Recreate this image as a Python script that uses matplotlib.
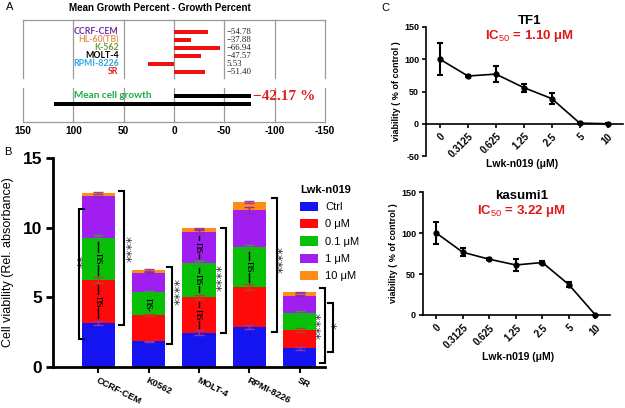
import matplotlib
matplotlib.use('Agg')
import matplotlib.pyplot as plt
from matplotlib.patches import Patch
import numpy as np

plt.rcParams['font.family'] = ['Liberation Sans', 'DejaVu Sans']
plt.rcParams['mathtext.fontset'] = 'custom'
plt.rcParams['mathtext.rm'] = 'Liberation Sans'
plt.rcParams['mathtext.bf'] = 'Liberation Sans:bold'

W, H = 625, 408

# ---------------- Panel A data ----------------
a_lines = ['CCRF-CEM', 'HL-60(TB)', 'K-562', 'MOLT-4', 'RPMI-8226', 'SR']
a_colors = ['#7030A0', '#E8935A', '#6A9A3A', '#000000', '#2AA8E0', '#E02020']
a_values = ['\u221254.78', '\u221237.88', '\u221266.94', '\u221247.57', '5.53', '\u221251.40']
a_bars = [-34, -17, -46, -27, 26, -31]
a_mean_bar = -76
a_range_bar = (119, -76)
a_mean_text = '\u221242.17 %'
a_ticks = [150, 100, 50, 0, -50, -100, -150]

# ---------------- Panel B data ----------------
b_lines = ['CCRF-CEM', 'K0562', 'MOLT-4', 'RPMI-8226', 'SR']
b_groups = ['Ctrl', '0 \u03bcM', '0.1 \u03bcM', '1 \u03bcM', '10 \u03bcM']
b_ctrl = [3.17, 1.85, 2.47, 2.88, 1.34]
b_0 = [3.07, 1.87, 2.57, 2.88, 1.32]
b_01 = [3.05, 1.68, 2.40, 2.83, 1.24]
b_1 = [2.95, 1.37, 2.28, 2.69, 1.22]
b_10 = [0.24, 0.19, 0.24, 0.55, 0.24]
e_ctrl = [0.15, 0.05, 0.15, 0.15, 0.12]
e_0 = [0.22, 0.06, 0.15, 0.22, 0.14]
e_01 = [0.15, 0.05, 0.15, 0.2, 0.1]
e_1 = [0.06, 0.05, 0.08, 0.2, 0.06]
e_10 = [0.05, 0.05, 0.05, 0.05, 0.05]
b_colors = ['#1414F0', '#FF0A0A', '#08C008', '#A01EF0', '#FF8C14']
b_ecolors = ['#8A3AA0', '#C83828', '#3C9A3C', '#8A2BB0', '#9B3A9B']
# ns comparisons: (bar index, segment index)
b_ns = [(0, 1), (0, 2), (1, 2), (2, 1), (2, 2), (2, 3), (3, 2)]
# significance brackets: (x, y_low, y_high, opening, label, label_x, label_y)
b_brackets = [
    (-0.376, 2.04, 11.33, 'left', '**', -0.30, 7.6),
    (0.515, 3.05, 12.6, 'right', '****', 0.66, 8.5),
    (1.465, 1.63, 7.2, 'right', '****', 1.62, 5.4),
    (2.535, 2.45, 9.96, 'right', '****', 2.45, 6.4),
    (3.545, 2.5, 12.1, 'right', '****', 3.67, 7.7),
    (4.495, 0.3, 5.67, 'right', '****', 4.43, 3.0),
    (4.65, 1.07, 4.6, 'right', '*', 4.74, 3.0),
]

# ---------------- Panel C data ----------------
c_doses = ['0', '0.3125', '0.625', '1.25', '2.5', '5', '10']
tf1_v = [100, 74, 77, 56, 39, 1, 0]
tf1_e = [25, 2, 13, 6, 9, 1, 0.5]
kas_v = [100, 76.5, 68, 61, 64, 37, 0]
kas_e = [14, 5, 1.5, 7, 1.5, 3, 0.5]


def rect(x0, y0, x1, y1):
    return [x0 / W, 1 - y1 / H, (x1 - x0) / W, (y1 - y0) / H]


def ftext(x, y, s, **kw):
    fig.text(x / W, 1 - y / H, s, **kw)


fig = plt.figure(figsize=(W / 100, H / 100), dpi=100)

# ================= Panel A =================
axA = fig.add_axes(rect(23, 20, 325, 122))
axA.set_xlim(150, -150)
axA.set_ylim(11.25, -1.5)
for s in axA.spines.values():
    s.set_visible(False)
gcol = '#9A9A9A'
for xv in a_ticks:
    axA.plot([xv, xv], [-1.5, 5.75], color=gcol, lw=0.9, zorder=0, clip_on=False)
    axA.plot([xv, xv], [7.0, 11.25], color=gcol, lw=0.9, zorder=0, clip_on=False)
axA.plot([150, -150], [-1.5, -1.5], color=gcol, lw=0.9, clip_on=False)
axA.plot([150, -150], [11.25, 11.25], color=gcol, lw=0.9, clip_on=False)
rows = np.arange(len(a_lines))
axA.barh(rows, a_bars, height=0.45, color='#F01010', zorder=2)
axA.barh([8], [a_mean_bar], height=0.55, color='black', zorder=2)
axA.barh([9], [a_range_bar[1] - a_range_bar[0]], left=a_range_bar[0], height=0.55,
         color='black', zorder=2)
for i, (nm, c, v) in enumerate(zip(a_lines, a_colors, a_values)):
    axA.text(55, i, nm, color=c, fontsize=6.3, fontweight='bold', family=['Lato', 'DejaVu Sans'],
             ha='right', va='center')
    axA.text(-52, i, v, color='#222222', fontsize=6.3, family=['Liberation Serif', 'DejaVu Serif'],
             ha='left', va='center')
axA.text(22, 8, 'Mean cell growth', color='#1EA848', fontsize=7.2, fontweight='bold',
         family=['Lato', 'DejaVu Sans'], ha='right', va='center')
axA.text(-78, 8, a_mean_text, color='#E02020', fontsize=11, fontweight='bold',
         family=['Liberation Serif', 'DejaVu Serif'], ha='left', va='center')
axA.set_xticks(a_ticks)
axA.set_xticklabels([str(t) for t in a_ticks], fontsize=7.3, fontweight='bold')
axA.tick_params(axis='x', length=0, pad=3)
axA.set_yticks([])
ftext(160, 8, 'Mean Growth Percent - Growth Percent', fontsize=7, fontweight='bold',
      ha='center', va='center')
ftext(10, 7, 'A', fontsize=8, ha='center', va='center')

# ================= Panel B =================
axB = fig.add_axes(rect(53, 158, 325, 367))
xb = np.arange(len(b_lines))
segs = [b_ctrl, b_0, b_01, b_1, b_10]
errs = [e_ctrl, e_0, e_01, e_1, e_10]
bottom = np.zeros(len(b_lines))
cum = []
handles = []
for vals, er, col, ecol, lab in zip(segs, errs, b_colors, b_ecolors, b_groups):
    vals = np.array(vals)
    axB.bar(xb, vals, 0.66, bottom=bottom, color=col, zorder=2)
    top = bottom + vals
    axB.errorbar(xb, top, yerr=er, fmt='none', ecolor=ecol, elinewidth=1, capsize=3.5,
                 capthick=1, zorder=3)
    cum.append((bottom.copy(), top.copy()))
    handles.append(Patch(facecolor=col, edgecolor='none', label=lab))
    bottom = top

for bi, si in b_ns:
    y0, y1 = cum[si][0][bi], cum[si][1][bi]
    axB.plot([bi, bi], [y0 + 0.35, y1 - 0.35], color='black', lw=1, zorder=4)
    axB.text(bi, (y0 + y1) / 2, 'ns', rotation=270, fontsize=9.5, ha='center', va='center',
             family=['Liberation Serif', 'DejaVu Serif'], zorder=5,
             bbox=dict(facecolor=b_colors[si], edgecolor='none', pad=0.3))

for (bx, y0, y1, side, lab, lx, ly) in b_brackets:
    tip = 0.1 if side == 'right' else -0.1
    axB.plot([bx - tip, bx, bx, bx - tip], [y0, y0, y1, y1], color='black', lw=1.5,
             clip_on=False, zorder=4, solid_joinstyle='miter')
    axB.text(lx, ly, lab, rotation=90, fontsize=9.5, color='#333333', ha='center', va='center',
             family=['DejaVu Sans'], clip_on=False)

axB.set_xlim(-0.9, 4.5)
axB.set_ylim(0, 15)
axB.set_yticks([0, 5, 10, 15])
axB.set_yticklabels(['0', '5', '10', '15'], fontsize=12.5, fontweight='bold')
axB.set_xticks(xb)
axB.set_xticklabels(b_lines, fontsize=6.7, fontweight='bold', rotation=-27, ha='left',
                    va='top', rotation_mode='anchor')
axB.tick_params(axis='y', length=5, width=2, pad=3)
axB.tick_params(axis='x', length=4, width=1.5, pad=2)
for s in ['top', 'right']:
    axB.spines[s].set_visible(False)
for s in ['left', 'bottom']:
    axB.spines[s].set_linewidth(2)
axB.set_ylabel('Cell viability (Rel. absorbance)', fontsize=9, labelpad=6)
leg = axB.legend(handles=handles, loc='upper left', bbox_to_anchor=(292 / W, 1 - 177 / H),
                 bbox_transform=fig.transFigure, frameon=False, fontsize=8,
                 title='Lwk-n019', title_fontproperties={'weight': 'bold', 'size': 8},
                 handlelength=1.6, handleheight=0.9, labelspacing=0.62, handletextpad=0.7,
                 borderpad=0.2)
leg._legend_box.align = 'left'
ftext(8, 152, 'B', fontsize=8, ha='center', va='center')

# ================= Panel C =================
def dose_panel(rectpx, vals, ers, ylim, yticks, title, ic50, ty):
    ax = fig.add_axes(rect(*rectpx))
    ax.spines['bottom'].set_position(('data', 0))
    xc = np.arange(len(c_doses))
    ax.errorbar(xc, vals, yerr=ers, color='black', marker='o', ms=3.5, lw=1.2,
                elinewidth=1.5, capsize=2.5, capthick=1.5, zorder=3, clip_on=False)
    ax.set_xlim(-0.5, 6.55)
    ax.set_ylim(*ylim)
    ax.spines['top'].set_visible(False)
    ax.spines['right'].set_visible(False)
    ax.spines['left'].set_linewidth(1.2)
    ax.spines['bottom'].set_linewidth(1.2)
    ax.set_yticks(yticks)
    ax.set_yticklabels([str(t) for t in yticks], fontsize=6.5, fontweight='bold')
    ax.set_xticks(xc)
    ax.set_xticklabels(c_doses, fontsize=7, fontweight='bold', rotation=45, ha='right',
                       va='top', rotation_mode='anchor')
    ax.tick_params(axis='both', length=3, width=1.2, pad=2)
    ax.tick_params(axis='x', pad=2.5)
    ax.set_ylabel('viability ( % of control )', fontsize=6.5, fontweight='bold', labelpad=2)
    cx = (rectpx[0] + rectpx[2]) / 2 + 5
    ftext(cx, ty, title, fontsize=9.5, fontweight='bold', ha='center', va='center')
    ftext(cx, ty + 15, r'IC$_{50}$ = ' + ic50, fontsize=9.5, fontweight='bold',
          color='#E01818', ha='center', va='center')
    return ax

ax1 = dose_panel((426, 27, 623, 156), tf1_v, tf1_e, (-50, 150), [-50, 0, 50, 100, 150],
                 'TF1', '1.10 \u03bcM', 21)
ftext(522, 164, 'Lwk-n019 (\u03bcM)', fontsize=7.5, fontweight='bold', ha='center', va='center')
ax2 = dose_panel((423, 192, 610, 315), kas_v, kas_e, (0, 150), [0, 50, 100, 150],
                 'kasumi1', '3.22 \u03bcM', 196)
ftext(518, 357, 'Lwk-n019 (\u03bcM)', fontsize=7.5, fontweight='bold', ha='center', va='center')
ftext(385, 8, 'C', fontsize=8, ha='center', va='center')

fig.savefig('out.png', dpi=100)
